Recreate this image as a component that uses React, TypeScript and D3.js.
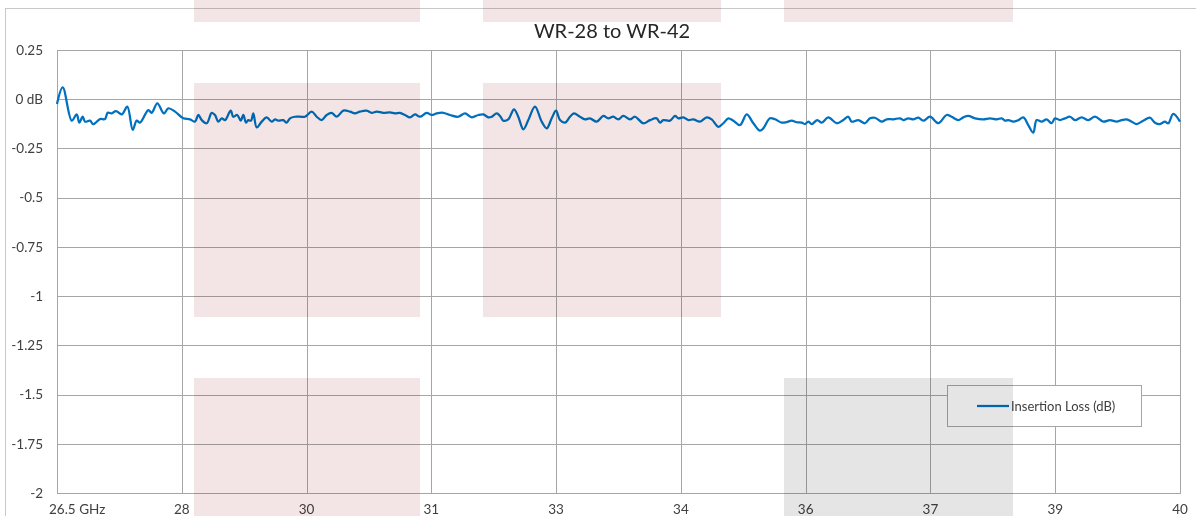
import React from 'react';
import * as d3 from 'd3';

const title = 'WR-28 to WR-42';
const seriesName = 'Insertion Loss (dB)';

const freqGHz = [
  26.5, 26.569, 26.677, 26.737, 26.768, 26.809, 26.837, 26.897, 26.936, 27.017, 27.077, 27.109, 27.158, 27.209, 27.278, 27.345, 27.41, 27.458, 27.498, 27.598, 27.638, 27.706, 27.786, 27.838, 27.919, 28.018, 28.099,
  28.159, 28.199, 28.24, 28.3, 28.36, 28.399, 28.439, 28.48, 28.52, 28.588, 28.619, 28.667, 28.708, 28.74, 28.772, 28.8, 28.832, 28.86, 28.901, 28.961, 29.021, 29.081, 29.121, 29.16, 29.22, 29.26, 29.301, 29.361, 29.421, 29.481, 29.562, 29.622, 29.682, 29.742, 29.802, 29.862, 29.942, 30.022, 30.082, 30.142, 30.223, 30.283, 30.343, 30.423, 30.503, 30.563, 30.623, 30.683, 30.744, 30.804, 30.864, 30.944, 31.004, 31.065, 31.144, 31.224, 31.324, 31.405, 31.485, 31.565,
  31.625, 31.685, 31.726, 31.786, 31.826, 31.865, 31.925, 31.994, 32.045, 32.106, 32.166, 32.246, 32.327, 32.387, 32.447, 32.499, 32.547, 32.607, 32.667, 32.715, 32.787, 32.847, 32.907, 32.988, 33.067, 33.127, 33.187, 33.248, 33.308, 33.388, 33.448, 33.548, 33.629, 33.709, 33.749, 33.789, 33.869, 33.929, 33.969, 34.029, 34.089, 34.149, 34.23, 34.31, 34.37, 34.45, 34.51, 34.57, 34.63, 34.711, 34.791, 34.871, 34.951,
  34.991, 35.071, 35.132, 35.212, 35.272, 35.332, 35.392, 35.452, 35.492, 35.532, 35.573, 35.64, 35.693, 35.772, 35.873, 35.952, 36.012, 36.053, 36.133, 36.213, 36.273, 36.333, 36.414, 36.474, 36.554, 36.634, 36.674, 36.734, 36.794, 36.854, 36.914, 36.995, 37.095, 37.195, 37.255, 37.335, 37.395, 37.455, 37.536, 37.636, 37.716, 37.796, 37.857, 37.896, 37.936, 37.996, 38.056, 38.116, 38.176, 38.236, 38.277, 38.337, 38.397, 38.457, 38.497, 38.557, 38.617, 38.677, 38.738, 38.818, 38.898, 38.978, 39.078, 39.158, 39.239, 39.299, 39.359, 39.419, 39.479, 39.558, 39.638, 39.699, 39.759, 39.819, 39.859, 39.919, 40.0,
];

const lossDb = [
  -0.024, 0.06, -0.109, -0.077, -0.119, -0.089, -0.114, -0.109, -0.127, -0.101, -0.101, -0.069, -0.072, -0.06, -0.077, -0.038, -0.156, -0.109, -0.119, -0.055, -0.069, -0.021, -0.072, -0.046, -0.063, -0.097, -0.102,
  -0.114, -0.08, -0.106, -0.122, -0.069, -0.08, -0.114, -0.097, -0.106, -0.058, -0.089, -0.08, -0.109, -0.08, -0.119, -0.106, -0.109, -0.072, -0.143, -0.114, -0.092, -0.114, -0.102, -0.109, -0.106, -0.119, -0.097, -0.089, -0.089, -0.089, -0.063, -0.089, -0.106, -0.08, -0.069, -0.089, -0.058, -0.063, -0.072, -0.063, -0.058, -0.069, -0.063, -0.069, -0.067, -0.072, -0.069, -0.08, -0.092, -0.077, -0.089, -0.069, -0.08, -0.072, -0.069, -0.08, -0.089, -0.072, -0.092, -0.08,
  -0.077, -0.092, -0.089, -0.072, -0.085, -0.109, -0.102, -0.051, -0.089, -0.153, -0.106, -0.038, -0.114, -0.148, -0.097, -0.058, -0.106, -0.119, -0.089, -0.072, -0.089, -0.102, -0.097, -0.114, -0.085, -0.097, -0.089, -0.102, -0.085, -0.102, -0.089, -0.122, -0.106, -0.097, -0.119, -0.106, -0.109, -0.085, -0.097, -0.092, -0.106, -0.102, -0.114, -0.092, -0.102, -0.14, -0.122, -0.097, -0.109, -0.131, -0.077, -0.122, -0.16,
  -0.148, -0.097, -0.102, -0.119, -0.116, -0.109, -0.117, -0.119, -0.126, -0.114, -0.126, -0.106, -0.119, -0.092, -0.122, -0.106, -0.089, -0.114, -0.106, -0.122, -0.097, -0.094, -0.114, -0.102, -0.102, -0.097, -0.106, -0.097, -0.102, -0.094, -0.109, -0.089, -0.122, -0.08, -0.089, -0.106, -0.092, -0.085, -0.097, -0.102, -0.097, -0.102, -0.097, -0.109, -0.106, -0.114, -0.106, -0.092, -0.131, -0.17, -0.106, -0.114, -0.102, -0.122, -0.097, -0.106, -0.097, -0.089, -0.106, -0.092, -0.106, -0.089, -0.114, -0.106, -0.114, -0.106, -0.102, -0.114, -0.126, -0.109, -0.094, -0.119, -0.126, -0.114, -0.122, -0.075, -0.114,
];

const xTicks = [26.5, 28, 29.5, 31, 32.5, 34, 35.5, 37, 38.5, 40];
const xTickLabels = ['26.5 GHz', '28', '30', '31', '33', '34', '36', '37', '39', '40'];
const yTicks = [0.25, 0, -0.25, -0.5, -0.75, -1, -1.25, -1.5, -1.75, -2];
const yTickLabels = ['0.25', '0 dB', '-0.25', '-0.5', '-0.75', '-1', '-1.25', '-1.5', '-1.75', '-2'];

// decorative watermark blocks (layout, pixels)
const decor = [
  { x0: 194, x1: 420, y0: -2, y1: 22, c: '#f3e5e5' },
  { x0: 483, x1: 721, y0: -2, y1: 22, c: '#f3e5e5' },
  { x0: 784, x1: 1013, y0: -2, y1: 22, c: '#f3e5e5' },
  { x0: 194, x1: 420, y0: 83, y1: 317, c: '#f3e5e5' },
  { x0: 483, x1: 721, y0: 83, y1: 317, c: '#f3e5e5' },
  { x0: 194, x1: 420, y0: 378, y1: 520, c: '#f3e5e5' },
  { x0: 784, x1: 1013, y0: 378, y1: 520, c: '#e5e5e5' },
];

const W = 1196;
const H = 516;
const FONT = 'Lato, "Open Sans", sans-serif';

export default function App() {
  const x = d3.scaleLinear().domain([26.5, 40]).range([57, 1180]);
  const y = d3.scaleLinear().domain([-2, 0.25]).range([493, 50]);
  const pts: [number, number][] = freqGHz.map((f, i) => [f, lossDb[i]]);
  const line = d3
    .line<[number, number]>()
    .x((d) => x(d[0]))
    .y((d) => y(d[1]))
    .curve(d3.curveCatmullRom.alpha(0.5));
  const px = (v: number) => Math.round(v) + 0.5;
  const grid = '#a6a6a6';
  const text = '#404040';

  return (
    <svg width={W} height={H} style={{ position: 'absolute', left: 0, top: 0 }} fontFamily={FONT}>
      <rect x={0} y={0} width={W} height={H} fill="#fff" />
      <rect x={5.5} y={8.5} width={W + 10} height={H + 10} fill="#fff" stroke="#c8c8c8" />
      <text x={612} y={38} textAnchor="middle" fontSize={20} fill="#262626">
        {title}
      </text>
      {yTicks.map((t) => (
        <line key={'h' + t} x1={57} x2={1180} y1={px(y(t))} y2={px(y(t))} stroke={grid} strokeWidth={1} />
      ))}
      {xTicks.map((t) => (
        <line key={'v' + t} x1={px(x(t))} x2={px(x(t))} y1={50} y2={493} stroke={grid} strokeWidth={1} />
      ))}
      <rect x={px(57)} y={px(50)} width={1123} height={443} fill="none" stroke={grid} />
      {yTicks.map((t, i) => (
        <text key={'yl' + t} x={43} y={y(t)} dy="0.35em" textAnchor="end" fontSize={13.5} fill={text}>
          {yTickLabels[i]}
        </text>
      ))}
      {xTicks.map((t, i) => (
        <text
          key={'xl' + t}
          x={i === 0 ? x(t) - 8 : x(t)}
          y={514}
          textAnchor={i === 0 ? 'start' : 'middle'}
          fontSize={13.5}
          fill={text}
        >
          {xTickLabels[i]}
        </text>
      ))}
      <path d={line(pts) || ''} fill="none" stroke="#0070c0" strokeWidth={2.25} strokeLinejoin="round" />
      <g>
        <rect x={947.5} y={385.5} width={194} height={41} fill="#fff" stroke={grid} />
        <line x1={977} x2={1009} y1={406} y2={406} stroke="#0070c0" strokeWidth={2.25} />
        <text x={1011} y={406} dy="0.35em" fontSize={13} fill={text}>
          {seriesName}
        </text>
      </g>
      <g style={{ mixBlendMode: 'multiply' }}>
        {decor.map((d, i) => (
          <rect key={'d' + i} x={d.x0} y={d.y0} width={d.x1 - d.x0} height={d.y1 - d.y0} fill={d.c} />
        ))}
      </g>
    </svg>
  );
}
